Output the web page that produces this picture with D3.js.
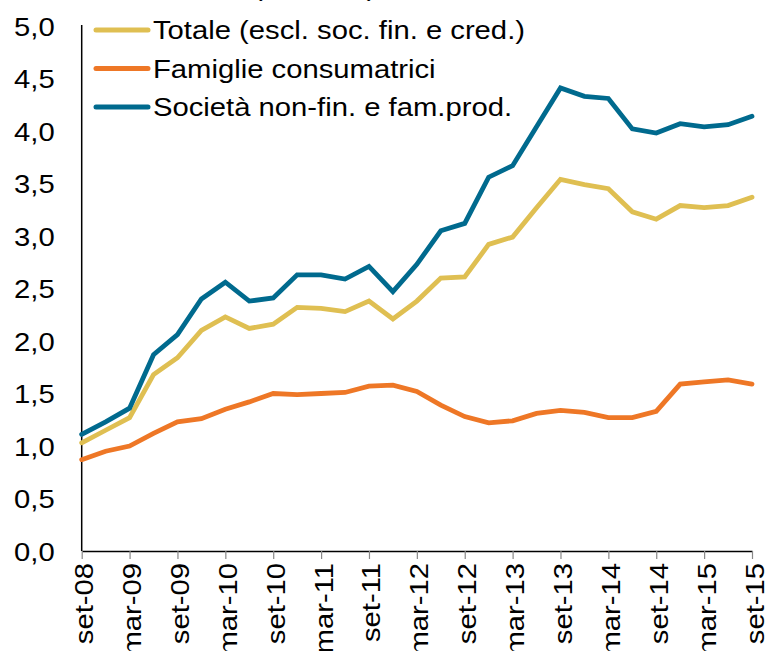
<!DOCTYPE html>
<html>
<head>
<meta charset="utf-8">
<script src="https://cdn.jsdelivr.net/npm/d3@7"></script>
<style>
  body { margin: 0; background: #fff; }
  svg text { font-family: "Liberation Sans", Arial, sans-serif; fill: #000; }
</style>
</head>
<body>
<script>
// quarterly dates, set-08 .. set-15
var quarters = ["set-08","dic-08","mar-09","giu-09","set-09","dic-09","mar-10","giu-10",
  "set-10","dic-10","mar-11","giu-11","set-11","dic-11","mar-12","giu-12",
  "set-12","dic-12","mar-13","giu-13","set-13","dic-13","mar-14","giu-14",
  "set-14","dic-14","mar-15","giu-15","set-15"];

var tickLabels = quarters.filter(function(d, i) { return i % 2 === 0; });
var yTicks = [0, 0.5, 1, 1.5, 2, 2.5, 3, 3.5, 4, 4.5, 5];

var totale = [1.03,1.15,1.27,1.68,1.84,2.10,2.23,2.12,2.16,2.32,2.31,2.28,2.38,2.21,
  2.38,2.60,2.61,2.92,2.99,3.27,3.54,3.49,3.45,3.23,3.16,3.29,3.27,3.29,3.37];
var famiglie = [0.87,0.95,1.00,1.12,1.23,1.26,1.35,1.42,1.50,1.49,1.50,1.51,1.57,1.58,
  1.52,1.39,1.28,1.22,1.24,1.31,1.34,1.32,1.27,1.27,1.33,1.59,1.61,1.63,1.59];
var societa = [1.11,1.23,1.36,1.87,2.06,2.40,2.56,2.38,2.41,2.63,2.63,2.59,2.71,2.47,
  2.73,3.05,3.12,3.56,3.67,4.04,4.41,4.33,4.31,4.02,3.98,4.07,4.04,4.06,4.14];

var seriesNames = ["Totale (escl. soc. fin. e cred.)", "Famiglie consumatrici", "Società non-fin. e fam.prod."];
var seriesColors = ["#dfbf52", "#ee7726", "#006a8e"];
var seriesData = [totale, famiglie, societa];

var width = 765, height = 651;
var stretch = 1.17;   // the reference font is drawn a bit wide

var svg = d3.select("body").append("svg")
    .attr("width", width)
    .attr("height", height);

var x = d3.scalePoint().domain(quarters).range([81.7, 752]);
var y = d3.scaleLinear().domain([0, 5]).range([551, 26]);

// title, cut off at the top edge
svg.append("text")
    .attr("transform", "translate(253,-4) scale(" + stretch + ",1)")
    .attr("font-size", 25)
    .text("(valori %)");

// y axis: line + labels, no ticks
var yAxis = svg.append("g")
    .attr("transform", "translate(81.7,0)")
    .call(d3.axisLeft(y).tickValues(yTicks).tickSize(0).tickPadding(0)
      .tickFormat(function(d) { return d3.format(".1f")(d).replace(".", ","); }));
yAxis.select(".domain").attr("stroke", "#000").attr("stroke-width", 1.5).attr("d", "M0,25V551");
yAxis.selectAll(".tick text")
    .attr("x", null).attr("dy", null)
    .attr("font-size", 25)
    .attr("text-anchor", "end")
    .attr("transform", "translate(-27,9) scale(" + stretch + ",1)");

// x axis
var xAxis = svg.append("g")
    .attr("transform", "translate(0,551)")
    .call(d3.axisBottom(x).tickValues(tickLabels).tickSize(8).tickSizeOuter(0));
xAxis.select(".domain").attr("stroke", "#000").attr("stroke-width", 1.5);
xAxis.selectAll(".tick line").attr("stroke", "#888").attr("stroke-width", 1.2);
xAxis.selectAll(".tick text")
    .attr("x", null).attr("y", null).attr("dy", null)
    .attr("font-size", 25)
    .attr("text-anchor", "end")
    .attr("transform", "translate(11,12) rotate(-90) scale(" + stretch + ",1)");

// lines
var line = d3.line()
    .x(function(d, i) { return x(quarters[i]); })
    .y(function(d) { return y(d); });

svg.selectAll(".series")
    .data(seriesData)
    .enter().append("path")
      .attr("class", "series")
      .attr("fill", "none")
      .attr("stroke", function(d, i) { return seriesColors[i]; })
      .attr("stroke-width", 4.8)
      .attr("stroke-linejoin", "miter")
      .attr("stroke-linecap", "round")
      .attr("d", line);

// legend
var legend = svg.selectAll(".legend")
    .data(seriesNames)
    .enter().append("g")
      .attr("class", "legend")
      .attr("transform", function(d, i) { return "translate(0," + [30, 68.5, 107][i] + ")"; });

legend.append("line")
    .attr("x1", 96).attr("x2", 148)
    .attr("stroke", function(d, i) { return seriesColors[i]; })
    .attr("stroke-width", 5)
    .attr("stroke-linecap", "round");

legend.append("text")
    .attr("font-size", 25)
    .attr("transform", "translate(153,9) scale(" + stretch + ",1)")
    .text(function(d) { return d; });
</script>
</body>
</html>
